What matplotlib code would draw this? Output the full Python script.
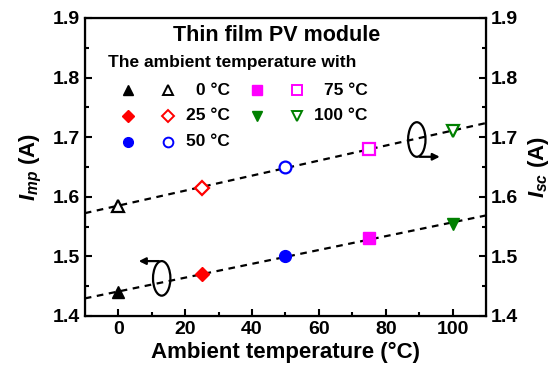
import matplotlib
matplotlib.use("Agg")
import matplotlib.pyplot as plt
from matplotlib.patches import Ellipse
import numpy as np

plt.rcParams['font.family'] = ['Liberation Sans', 'DejaVu Sans']
plt.rcParams['font.weight'] = 'bold'
plt.rcParams['mathtext.fontset'] = 'custom'
plt.rcParams['mathtext.it'] = 'Liberation Sans:italic:bold'
plt.rcParams['mathtext.rm'] = 'Liberation Sans:bold'

# data
temps = [0, 25, 50, 75, 100]
imp = [1.44, 1.47, 1.50, 1.53, 1.555]
isc = [1.585, 1.615, 1.65, 1.68, 1.71]
labels = ['0 °C', '25 °C', '50 °C', '75 °C', '100 °C']
colors = ['black', '#ff0000', '#0000ff', '#ff00ff', '#008000']
markers = ['^', 'D', 'o', 's', 'v']

fig = plt.figure(figsize=(5.58, 3.73), dpi=100)
ax = fig.add_axes([0.152, 0.153, 0.719, 0.799])

# linear fits
xf = np.array([-10, 110])
p1 = np.polyfit(temps, imp, 1)
p2 = np.polyfit(temps, isc, 1)
ax.plot(xf, np.polyval(p1, xf), '--', color='black', lw=1.6, dashes=(3, 2.5), zorder=1)
ax.plot(xf, np.polyval(p2, xf), '--', color='black', lw=1.6, dashes=(3, 2.5), zorder=1)

for t, a, b, c, m in zip(temps, imp, isc, colors, markers):
    ms = 8.5 if m != 'D' else 7.5
    ax.plot(t, a, marker=m, color=c, ms=ms, ls='none', zorder=3)
    ax.plot(t, b, marker=m, mfc='white', mec=c, mew=1.6, ms=ms, ls='none', zorder=3)

ax.set_xlim(-10, 110)
ax.set_ylim(1.4, 1.9)
ax.set_xticks([0, 20, 40, 60, 80, 100])
ax.set_xticks(np.arange(10, 110, 20), minor=True)
ax.set_yticks([1.4, 1.5, 1.6, 1.7, 1.8, 1.9])
ax.set_yticks([1.45, 1.55, 1.65, 1.75, 1.85], minor=True)
ax.tick_params(which='both', direction='in', width=1.5, labelsize=14)
ax.tick_params(which='major', length=5)
ax.tick_params(which='minor', length=3)
for s in ax.spines.values():
    s.set_linewidth(1.6)

ax2 = ax.twinx()
ax2.set_ylim(1.4, 1.9)
ax2.set_yticks([1.4, 1.5, 1.6, 1.7, 1.8, 1.9])
ax2.set_yticks([1.45, 1.55, 1.65, 1.75, 1.85], minor=True)
ax2.tick_params(which='both', direction='in', width=1.5, labelsize=14)
ax2.tick_params(which='major', length=5)
ax2.tick_params(which='minor', length=3)

ax.set_xlabel('Ambient temperature (°C)', fontsize=16, fontweight='bold', labelpad=3)
ax.set_ylabel(r'$I_{mp}$ (A)', fontsize=16, fontweight='bold', labelpad=6)
ax2.set_ylabel(r'$I_{sc}$ (A)', fontsize=16, fontweight='bold', labelpad=6)

# legend block
ax.text(0.479, 0.94, 'Thin film PV module', transform=ax.transAxes, ha='center', va='center', fontsize=15.5)
ax.text(0.057, 0.849, 'The ambient temperature with', transform=ax.transAxes, ha='left', va='center', fontsize=12.5)
rows = [0.758, 0.671, 0.584]
for i in range(5):
    col = i // 3
    row = rows[i % 3]
    x0 = 0.107 + col * 0.322
    ms = 7 if markers[i] != 'D' else 6.5
    ax.plot(x0, row, marker=markers[i], color=colors[i], ms=ms, transform=ax.transAxes, ls='none')
    ax.plot(x0 + 0.1, row, marker=markers[i], mfc='white', mec=colors[i], mew=1.4, ms=ms,
            transform=ax.transAxes, ls='none')
    ax.text(x0 + 0.255 if col == 0 else x0 + 0.275, row, labels[i], transform=ax.transAxes,
            ha='right', va='center', fontsize=12.5)

# ellipse + arrow annotations
ax.add_patch(Ellipse((89.3, 1.696), 5.2, 0.058, fill=False, lw=1.6, color='black'))
ax.annotate('', xy=(97, 1.667), xytext=(89.3, 1.667),
            arrowprops=dict(arrowstyle='-|>', color='black', lw=1.6))
ax.add_patch(Ellipse((13.0, 1.463), 5.2, 0.058, fill=False, lw=1.6, color='black'))
ax.annotate('', xy=(5.3, 1.492), xytext=(13.0, 1.492),
            arrowprops=dict(arrowstyle='-|>', color='black', lw=1.6))

fig.savefig('out.png', dpi=100)
